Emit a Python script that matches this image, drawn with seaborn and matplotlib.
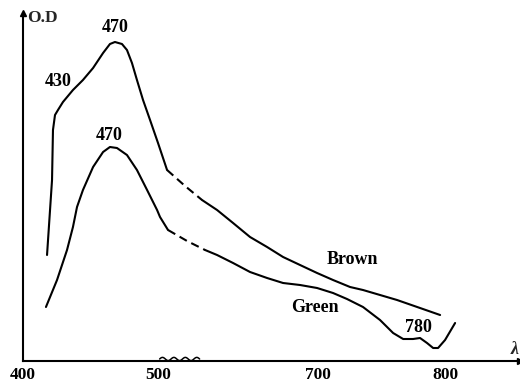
import numpy as np
import matplotlib
matplotlib.use("Agg")
import matplotlib.pyplot as plt
import seaborn as sns

# ---- data (wavelength nm, optical density, arbitrary units) ----
brown_nm = [417.8, 421.5, 422.2, 423.7, 425.9, 429.6, 437.0, 444.4, 451.9, 459.3, 464.4, 468.1, 473.3,
            477.0, 480.7, 484.4, 488.9, 494.1, 500.0, 511.3, 533.8, 555.0, 573.8, 593.8, 615.0, 636.3,
            656.3, 677.5, 698.8, 711.8, 725.2, 735.4, 748.8, 762.2, 780.3, 796.1]
brown_od = [1.06, 1.81, 2.31, 2.46, 2.51, 2.59, 2.71, 2.81, 2.93, 3.08, 3.17, 3.19, 3.17,
            3.11, 2.98, 2.81, 2.61, 2.41, 2.18, 1.91, 1.75, 1.61, 1.51, 1.38, 1.24, 1.14,
            1.04, 0.96, 0.88, 0.81, 0.74, 0.71, 0.66, 0.61, 0.53, 0.46]
green_nm = [417.0, 425.2, 432.6, 437.0, 440.0, 444.4, 451.9, 459.3, 464.4, 469.6, 477.0, 484.4, 491.9,
            499.3, 502.5, 512.5, 536.3, 558.8, 573.8, 593.8, 615.0, 636.3, 656.3, 677.5, 698.8, 711.8,
            722.8, 735.4, 748.8, 759.1, 767.0, 774.8, 780.3, 785.8, 790.6, 794.5, 800.0, 807.9]
green_od = [0.54, 0.81, 1.11, 1.34, 1.54, 1.71, 1.94, 2.09, 2.14, 2.13, 2.06, 1.91, 1.71,
            1.51, 1.44, 1.31, 1.20, 1.11, 1.06, 0.98, 0.89, 0.83, 0.78, 0.76, 0.73, 0.68,
            0.62, 0.54, 0.41, 0.28, 0.22, 0.22, 0.23, 0.18, 0.13, 0.13, 0.21, 0.38]
brown_dash = (511.3, 555.0)   # dashed (interpolated) range
green_dash = (512.5, 558.8)
tick_values = [400, 500, 700, 800]
tick_labels = ["400", "500", "700", "800"]

# broken (piecewise linear) wavelength axis
KNOTS_NM = np.array([300, 400, 500, 700, 800, 1000], dtype=float)
KNOTS_PX = np.array([-135, 0, 135, 295, 422, 676], dtype=float)


def fwd(x):
    return np.interp(x, KNOTS_NM, KNOTS_PX)


def inv(p):
    return np.interp(p, KNOTS_PX, KNOTS_NM)


sns.set_style("white")
plt.rcParams["font.family"] = ["Liberation Serif", "DejaVu Serif"]
plt.rcParams["font.weight"] = "bold"

fig = plt.figure(figsize=(5.2, 3.88), dpi=100)
ax = fig.add_axes([23 / 520, 27 / 388, 497 / 520, 348 / 388])
ax.set_xscale("function", functions=(fwd, inv))
ax.set_xlim(400, 859)
ax.set_ylim(0, 3.48)


def draw_curve(nm, od, dash):
    nm = np.array(nm)
    od = np.array(od)
    a = int(np.argmin(np.abs(nm - dash[0])))
    b = int(np.argmin(np.abs(nm - dash[1])))
    kw = dict(ax=ax, color="black", sort=False, estimator=None, lw=1.5, legend=False,
              solid_joinstyle="round", solid_capstyle="round")
    sns.lineplot(x=nm[:a + 1], y=od[:a + 1], **kw)
    sns.lineplot(x=nm[a:b + 1], y=od[a:b + 1], linestyle=(0, (4, 2.4)), **kw)
    sns.lineplot(x=nm[b:], y=od[b:], **kw)


draw_curve(brown_nm, brown_od, brown_dash)
draw_curve(green_nm, green_od, green_dash)

# axes styling
for s in ["top", "right"]:
    ax.spines[s].set_visible(False)
for s in ["left", "bottom"]:
    ax.spines[s].set_linewidth(1.5)
    ax.spines[s].set_color("black")
ax.plot(1, 0, ">k", transform=ax.transAxes, clip_on=False, ms=5)
ax.plot(0, 1, "^k", transform=ax.transAxes, clip_on=False, ms=5)

ax.set_xticks(tick_values)
ax.set_xticklabels(tick_labels)
ax.set_yticks([])
ax.tick_params(axis="x", direction="in", length=4, width=1.2, pad=4, labelsize=12.5, colors="black")
ax.set_xlabel("")
ax.set_ylabel("")

# wavy break mark on axis
wx = np.linspace(502, 552, 80)
wy = 0.02 + 0.016 * np.sin((wx - 502) / 50 * 2 * np.pi * 3.5)
ax.plot(wx, wy, color="black", lw=1.1, clip_on=False)

# annotations
tk = dict(fontsize=13, fontweight="bold", ha="center", va="center", color="black")
ax.text(468, 3.33, "470", **tk)
ax.text(426, 2.79, "430", **tk)
ax.text(464, 2.26, "470", **tk)
ax.text(727, 1.01, "Brown", **tk)
ax.text(696, 0.53, "Green", **tk)
ax.text(779, 0.33, "780", **tk)
ax.text(403, 3.43, "O.D", fontsize=12.5, fontweight="bold", ha="left", va="center")
ax.text(855, 0.03, "λ", fontsize=13, fontstyle="italic", fontweight="bold", ha="center", va="bottom")

fig.savefig("out.png", dpi=100)
